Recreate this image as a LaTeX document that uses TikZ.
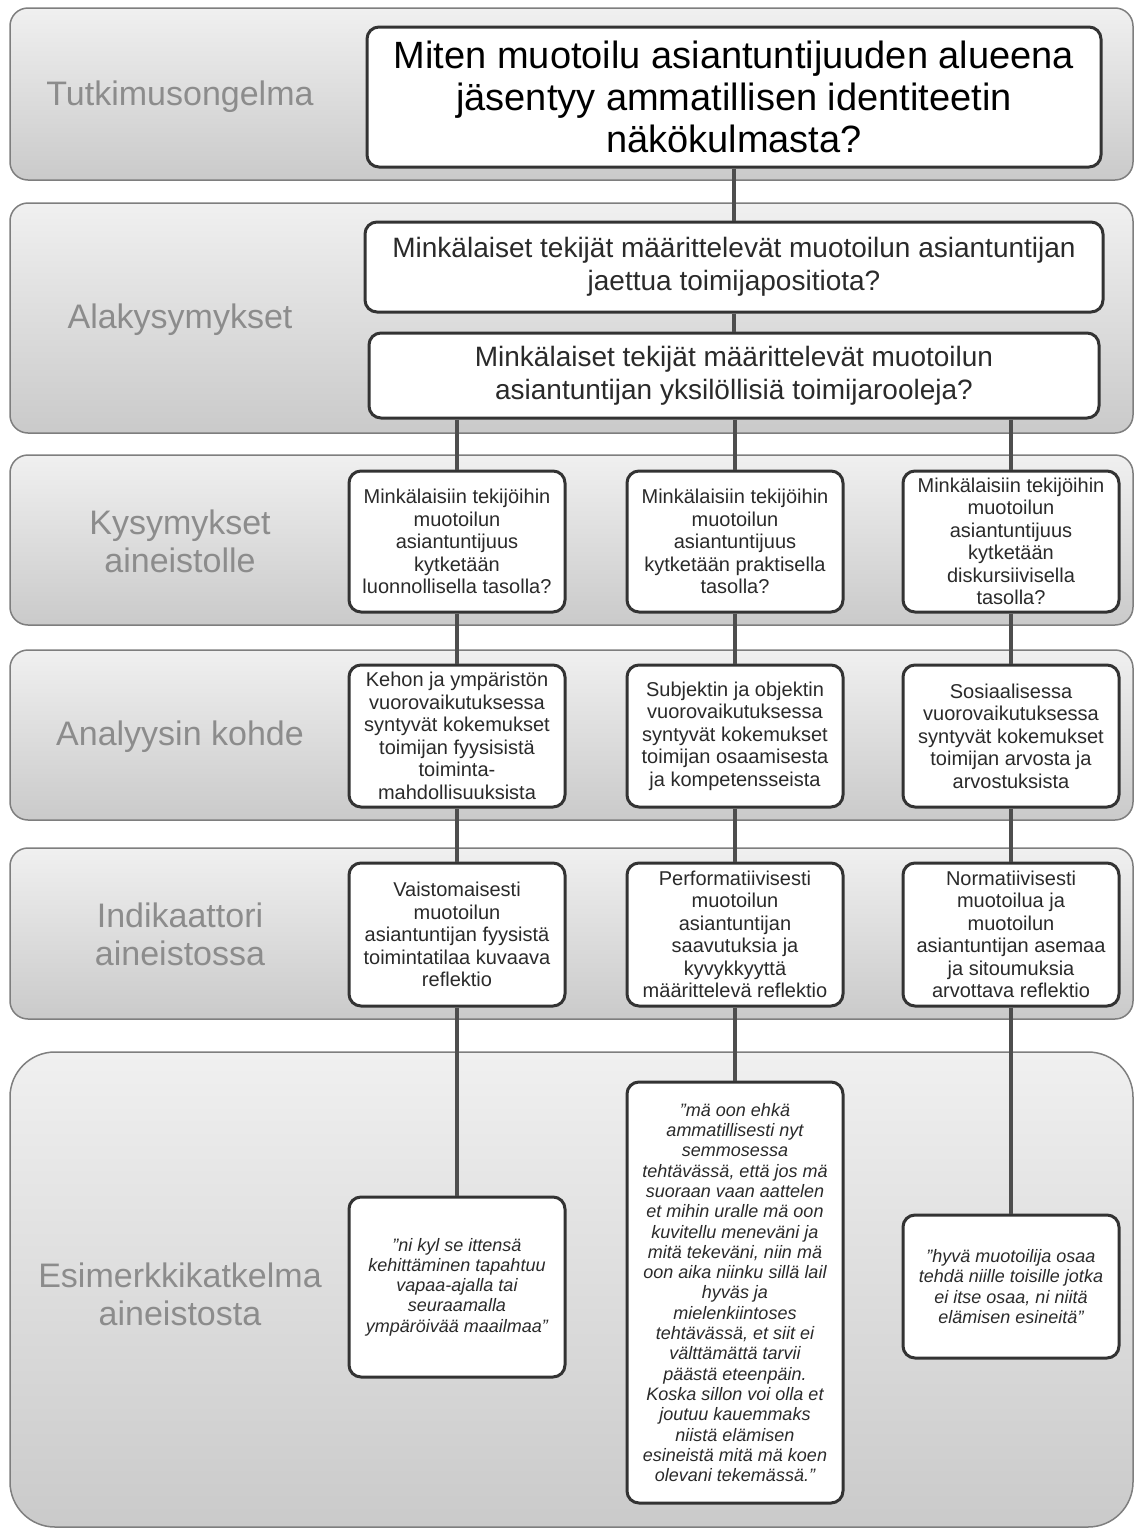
\documentclass[tikz,border=0pt]{standalone}
\usepackage{fontspec}
\setmainfont{Liberation Sans}
\usepackage{tikz}
\usetikzlibrary{calc}
\definecolor{vyoYla}{HTML}{F0F0F0}
\definecolor{vyoAla}{HTML}{CACACA}
\definecolor{vyoReuna}{HTML}{7E7E7E}
\definecolor{otsikko}{HTML}{8C8C8C}
\definecolor{laatikko}{HTML}{333333}
\definecolor{teksti}{HTML}{2A2A2A}
\definecolor{viiva}{HTML}{4E4E4E}

\begin{document}
\begin{tikzpicture}[x=1pt,y=-1pt,
    vyo/.style={draw=vyoReuna,line width=1.5pt,top color=vyoYla,bottom color=vyoAla},
    ots/.style={text=otsikko,align=center,font=\fontsize{34}{38}\selectfont},
    laat/.style={draw=laatikko,line width=3pt,rounded corners=12pt,fill=white,align=center,inner sep=2pt},
    sar/.style={laat,minimum width=216pt,text=teksti,font=\fontsize{20}{22.5}\selectfont},
    lain/.style={sar,font=\fontsize{18}{20.3}\selectfont\itshape},
    yhteys/.style={draw=viiva,line width=3.5pt}]
            \useasboundingbox (0,0) rectangle (1135,1529);
            \foreach \y/\a/\kulma in {8/180/18, 203/433/18, 455/625/18, 650/820/18, 848/1019/18, 1052/1527/45} {
                \draw[vyo,rounded corners=\kulma pt] (10,\y) rectangle (1133,\a);
            }
            \node[ots] (otsA) at (180,97) {Tutkimusongelma};
            \node[ots] (otsB) at (180,320) {Alakysymykset};
            \node[ots] (otsC) at (180,541) {Kysymykset\\aineistolle};
            \node[ots] (otsD) at (180,737) {Analyysin kohde};
            \node[ots] (otsE) at (180,934) {Indikaattori\\aineistossa};
            \node[ots] (otsF) at (180,1294) {Esimerkkikatkelma\\aineistosta};
            \node[laat,minimum width=734pt,minimum height=140pt,font=\fontsize{38}{42}\selectfont] (paa) at (734,97)
                {Miten muotoilu asiantuntijuuden alueena\\jäsentyy ammatillisen identiteetin\\näkökulmasta?};
            \node[laat,minimum width=738pt,minimum height=90pt,text=teksti,font=\fontsize{28}{33}\selectfont] (alaA) at (734,267)
                {Minkälaiset tekijät määrittelevät muotoilun asiantuntijan\\jaettua toimijapositiota?};
            \node[laat,minimum width=730pt,minimum height=85pt,text=teksti,font=\fontsize{28}{33}\selectfont] (alaB) at (734,375.5)
                {Minkälaiset tekijät määrittelevät muotoilun\\asiantuntijan yksilöllisiä toimijarooleja?};
            \node[sar,minimum height=141pt] (kys1) at (457,541.5)
                {Minkälaisiin tekijöihin\\muotoilun\\asiantuntijuus\\kytketään\\luonnollisella tasolla?};
            \node[sar,minimum height=141pt] (kys2) at (735,541.5)
                {Minkälaisiin tekijöihin\\muotoilun\\asiantuntijuus\\kytketään praktisella\\tasolla?};
            \node[sar,minimum height=141pt] (kys3) at (1011,541.5)
                {Minkälaisiin tekijöihin\\muotoilun\\asiantuntijuus\\kytketään\\diskursiivisella\\tasolla?};
            \node[sar,minimum height=142pt] (ana1) at (457,736)
                {Kehon ja ympäristön\\vuorovaikutuksessa\\syntyvät kokemukset\\toimijan fyysisistä\\toiminta-\\mahdollisuuksista};
            \node[sar,minimum height=142pt] (ana2) at (735,736)
                {Subjektin ja objektin\\vuorovaikutuksessa\\syntyvät kokemukset\\toimijan osaamisesta\\ja kompetensseista};
            \node[sar,minimum height=142pt] (ana3) at (1011,736)
                {Sosiaalisessa\\vuorovaikutuksessa\\syntyvät kokemukset\\toimijan arvosta ja\\arvostuksista};
            \node[sar,minimum height=143pt] (ind1) at (457,934.5)
                {Vaistomaisesti\\muotoilun\\asiantuntijan fyysistä\\toimintatilaa kuvaava\\reflektio};
            \node[sar,minimum height=143pt] (ind2) at (735,934.5)
                {Performatiivisesti\\muotoilun\\asiantuntijan\\saavutuksia ja\\kyvykkyyttä\\määrittelevä reflektio};
            \node[sar,minimum height=143pt] (ind3) at (1011,934.5)
                {Normatiivisesti\\muotoilua ja\\muotoilun\\asiantuntijan asemaa\\ja sitoumuksia\\arvottava reflektio};
            \node[lain,minimum height=180pt] (esi1) at (457,1287)
                {”ni kyl se ittensä\\kehittäminen tapahtuu\\vapaa-ajalla tai\\seuraamalla\\ympäröivää maailmaa”};
            \node[lain,minimum height=421pt] (esi2) at (735,1292.5)
                {”mä oon ehkä\\ammatillisesti nyt\\semmosessa\\tehtävässä, että jos mä\\suoraan vaan aattelen\\et mihin uralle mä oon\\kuvitellu meneväni ja\\mitä tekeväni, niin mä\\oon aika niinku sillä lail\\hyväs ja\\mielenkiintoses\\tehtävässä, et siit ei\\välttämättä tarvii\\päästä eteenpäin.\\Koska sillon voi olla et\\joutuu kauemmaks\\niistä elämisen\\esineistä mitä mä koen\\olevani tekemässä.”};
            \node[lain,minimum height=143pt] (esi3) at (1011,1286.5)
                {”hyvä muotoilija osaa\\tehdä niille toisille jotka\\ei itse osaa, ni niitä\\elämisen esineitä”};
            \draw[yhteys] (paa) -- (alaA) (alaA) -- (alaB);
            \foreach \k in {1,2,3} {
                \draw[yhteys] (alaB.south -| kys\k.north) -- (kys\k.north) (kys\k) -- (ana\k) (ana\k) -- (ind\k) (ind\k) -- (esi\k);
            }
        \end{tikzpicture}
\end{document}
